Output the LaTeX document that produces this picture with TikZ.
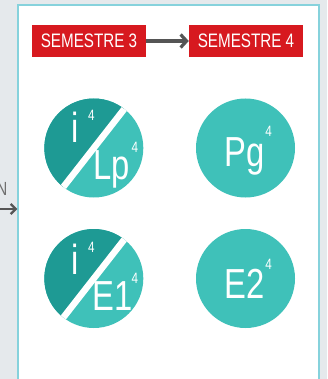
\documentclass[tikz,border=0pt]{standalone}
\usepackage{fontspec}
\newfontfamily\condsf{Liberation Sans}[FakeStretch=0.78]
\usetikzlibrary{arrows.meta}
\definecolor{semred}{HTML}{D7191F}
\definecolor{tealdark}{HTML}{1E9A94}
\definecolor{teallight}{HTML}{3FC1B9}
\definecolor{panelline}{HTML}{86D2DC}
\definecolor{bggrey}{HTML}{E5E9EC}
\definecolor{arrowgrey}{HTML}{555555}
\definecolor{textgrey}{HTML}{707070}
\tikzset{
  sem/.style={fill=semred, text=white, font=\condsf\fontsize{19.5}{20}\selectfont,
    minimum width=114pt, minimum height=32pt, inner sep=0pt},
  disc/.style={circle, fill=teallight, minimum size=99pt, inner sep=0pt},
  big/.style={text=white, font=\condsf\fontsize{42}{42}\selectfont, inner sep=0pt, anchor=base},
  sup/.style={text=white, font=\condsf\fontsize{15}{15}\selectfont, inner sep=0pt, anchor=base},
  link/.style={draw=arrowgrey, line width=3.2pt, -{Straight Barb[length=6pt,width=13pt]}}
}
\begin{document}
\begin{tikzpicture}[x=1pt,y=-1pt]
\useasboundingbox (0,0) rectangle (327,379);
\fill[bggrey] (0,0) rectangle (327,379);
\node[draw=panelline, line width=1.2pt, fill=white, minimum width=301pt, minimum height=400pt, inner sep=0pt] (panel) at (168.5,205) {};

\node[anchor=base east, inner sep=0pt, text=textgrey, font=\condsf\fontsize{19}{19}\selectfont] (cut) at (7.5,195) {N};
\coordinate (inl) at (-2,209);
\draw[link, line width=2.4pt, -{Straight Barb[length=5pt,width=10pt]}] (inl) -- (panel.west |- inl);

\node[sem] (s3) at (89,41) {SEMESTRE 3};
\node[sem] (s4) at (246,41) {SEMESTRE 4};
\draw[link] (s3) -- (s4);

\node[disc] (lp) at (93.8,148) {};
\node[disc] (pg) at (245.5,148) {};
\node[disc] (e1) at (93.8,278.5) {};
\node[disc] (e2) at (245.5,278.5) {};
\foreach \c in {lp,e1} {
  \begin{scope}
    \clip (\c.center) circle (49.5);
    \fill[tealdark, shift={(\c.center)}, rotate=52] (-60,-60) rectangle (60,0);
    \draw[white, line width=6.5pt, shift={(\c.center)}, rotate=52] (-60,0) -- (60,0);
  \end{scope}
}

\node[big] (ia) at (75.5,143) {i};
\node[sup] (iasup) at (91.5,121) {4};
\node[big] (lptxt) at (112,179) {Lp};
\node[sup] (lpsup) at (135,153) {4};
\node[big] (pgtxt) at (245,167) {Pg};
\node[sup] (pgsup) at (268.5,137) {4};
\node[big] (ib) at (75.5,274) {i};
\node[sup] (ibsup) at (91.5,252) {4};
\node[big] (e1txt) at (112.5,310) {E1};
\node[sup] (e1sup) at (135,283) {4};
\node[big] (e2txt) at (245,298) {E2};
\node[sup] (e2sup) at (268.5,269) {4};
\end{tikzpicture}
\end{document}
